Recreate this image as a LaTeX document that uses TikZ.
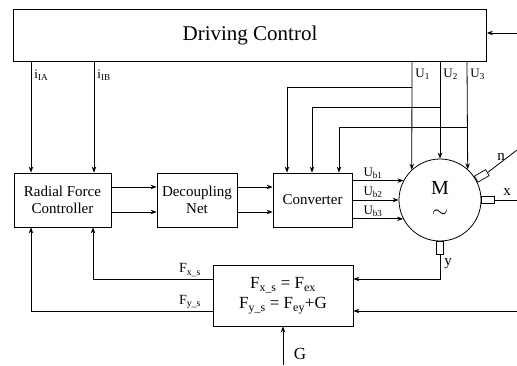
\documentclass[tikz,border=0pt]{standalone}
\usepackage{fontspec}
\setmainfont{Liberation Serif}
\usetikzlibrary{arrows.meta}
\begin{document}
\begin{tikzpicture}[x=1pt,y=-1pt, line width=0.8pt,
  box/.style={draw, rectangle, inner sep=0pt, align=center, font=\fontsize{15}{17}\selectfont},
  arr/.style={-{Stealth[length=6pt,width=4.5pt]}},
  lbl/.style={font=\fontsize{13}{14}\selectfont, inner sep=1pt},
  sensor/.style={draw, rectangle, inner sep=0pt, minimum width=13pt, minimum height=7pt, line width=0.7pt}]
\useasboundingbox (0,0) rectangle (517,365);
% blocks
\node[box, minimum width=473pt, minimum height=52pt, font=\fontsize{21}{23}\selectfont] (dc) at (250,35) {Driving Control};
\node[box, minimum width=97pt, minimum height=54pt] (rfc) at (62.5,200) {Radial Force\\Controller};
\node[box, minimum width=80pt, minimum height=54pt] (dn) at (197,200) {Decoupling\\Net};
\node[box, minimum width=79pt, minimum height=54pt] (conv) at (312.5,200) {Converter};
\node[draw, circle, minimum size=82pt, inner sep=0pt] (m) at (440,200) {};
\node[font=\fontsize{20}{22}\selectfont] (mlab) at (440,188) {M};
\node[font=\fontsize{20}{22}\selectfont] (mtil) at (440,214) {$\sim$};
\node[box, minimum width=140pt, minimum height=61pt, font=\fontsize{17}{20}\selectfont] (fb) at (283,295.5)
  {F\textsubscript{x\_s} = F\textsubscript{ex}\\F\textsubscript{y\_s} = F\textsubscript{ey}+G};
% sensors
\node[sensor, rotate=30, anchor=west] (sn) at (m.30) {};
\node[sensor, anchor=west] (sx) at (m.east) {};
\node[sensor, rotate=-90, anchor=west] (sy) at (m.south) {};
% coordinates
\coordinate (dcin) at (517,33);
\coordinate (xa) at (31,0);
\coordinate (xb) at (94,0);
\coordinate (u1) at (412,0);
\coordinate (u2) at (440,0);
\coordinate (u3) at (467,0);
\coordinate (b1) at (287,87);
\coordinate (b2) at (312,107);
\coordinate (b3) at (339,127);
\coordinate (r1) at (0,187);
\coordinate (r2) at (0,212);
\coordinate (nend) at (517,150);
\coordinate (xend) at (517,200);
\coordinate (ycor) at (440,279);
\coordinate (fx) at (93,279);
\coordinate (fy) at (31,311);
\coordinate (fin) at (517,311);
\coordinate (gin) at (283,365);
% connectors
\draw[arr] (dcin) -- (dc.east |- dcin);
\draw[arr] (dc.south -| xa) -- (rfc.north -| xa);
\draw[arr] (dc.south -| xb) -- (rfc.north -| xb);
\draw[arr] (rfc.east |- r1) -- (dn.west |- r1);
\draw[arr] (rfc.east |- r2) -- (dn.west |- r2);
\draw[arr] (dn.east |- r1) -- (conv.west |- r1);
\draw[arr] (dn.east |- r2) -- (conv.west |- r2);
\draw[arr] (dc.south -| u1) -- (m.133.1);
\draw[arr] (dc.south -| u2) -- (m.north);
\draw[arr] (dc.south -| u3) -- (m.48.8);
\draw[arr] (b1 -| u1) -- (b1) -- (conv.north -| b1);
\draw[arr] (b2 -| u2) -- (b2) -- (conv.north -| b2);
\draw[arr] (b3 -| u3) -- (b3) -- (conv.north -| b3);
\draw[arr] (conv.east |- m.152.4) -- (m.152.4);
\draw[arr] (conv.east |- m.west) -- (m.west);
\draw[arr] (conv.east |- m.207.6) -- (m.207.6);
\draw (sn.east) -- (nend);
\draw (sx.east) -- (xend);
\draw[arr] (sy.east) -- (ycor) -- (fb.east |- ycor);
\draw[arr] (fin) -- (fb.east |- fin);
\draw[arr] (fb.west |- fx) -- (fx) -- (rfc.south -| fx);
\draw[arr] (fb.west |- fy) -- (fy) -- (rfc.south -| fy);
\draw[arr] (gin) -- (fb.south);
% labels
\node[lbl, anchor=west] (lia) at (33,75) {i\textsubscript{IA}};
\node[lbl, anchor=west] (lib) at (96,75) {i\textsubscript{IB}};
\node[lbl, anchor=west] (lu1) at (414,74) {U\textsubscript{1}};
\node[lbl, anchor=west] (lu2) at (442,74) {U\textsubscript{2}};
\node[lbl, anchor=west] (lu3) at (469,74) {U\textsubscript{3}};
\node[lbl] (lub1) at (373,173) {U\textsubscript{b1}};
\node[lbl] (lub2) at (373,192) {U\textsubscript{b2}};
\node[lbl] (lub3) at (373,211) {U\textsubscript{b3}};
\node[lbl, font=\fontsize{15}{16}\selectfont] (ln) at (501,157) {n};
\node[lbl, font=\fontsize{15}{16}\selectfont] (lx) at (507,192) {x};
\node[lbl, font=\fontsize{15}{16}\selectfont] (ly) at (448,264) {y};
\node[lbl, font=\fontsize{14}{15}\selectfont] (lfx) at (190,270) {F\textsubscript{x\_s}};
\node[lbl, font=\fontsize{14}{15}\selectfont] (lfy) at (190,302) {F\textsubscript{y\_s}};
\node[lbl, font=\fontsize{17}{18}\selectfont] (lg) at (300,354) {G};
\end{tikzpicture}
\end{document}
